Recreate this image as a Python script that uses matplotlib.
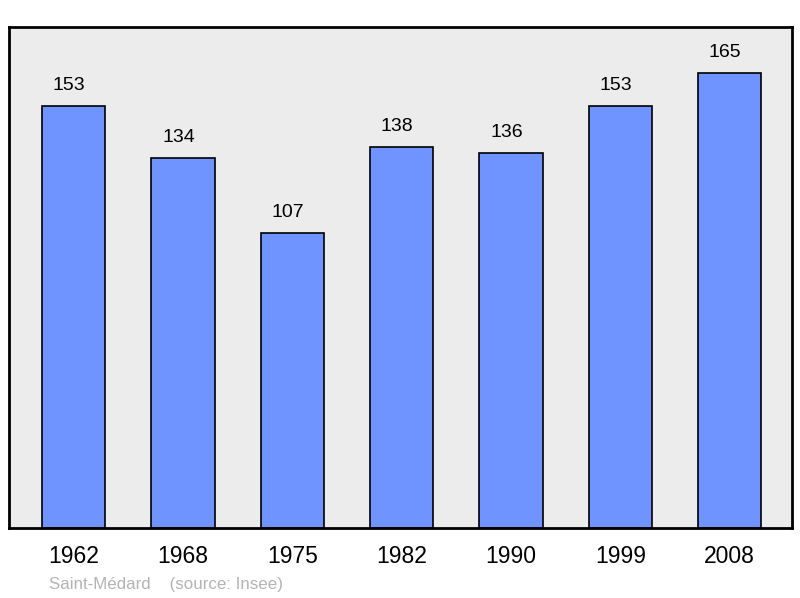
import matplotlib
matplotlib.use("Agg")
import matplotlib.pyplot as plt

years = ["1962", "1968", "1975", "1982", "1990", "1999", "2008"]
population = [153, 134, 107, 138, 136, 153, 165]
town = "Saint-Médard"
source = "(source: Insee)"

plt.rcParams["font.family"] = ["Liberation Sans", "DejaVu Sans"]

fig = plt.figure(figsize=(8, 5.98), dpi=100)
ax = fig.add_axes([9 / 800, 1 - 528 / 598, 783 / 800, 501 / 598])
ax.set_facecolor("#ececec")

x = range(len(years))
ax.bar(x, population, width=0.58, color="#7094ff", edgecolor="black", linewidth=1.2)

# value labels above each bar (slightly left of centre, as in the original)
for i, v in zip(x, population):
    ax.text(i - 0.04, v + 7.5, str(v), ha="center", va="center", fontsize=14)

ax.set_xlim(-0.59, 6.57)
ax.set_ylim(0, 181.6)
ax.set_yticks([])
ax.set_xticks(list(x))
ax.set_xticklabels(years, fontsize=16.5)
ax.tick_params(axis="x", length=0, pad=12.5)
for s in ax.spines.values():
    s.set_linewidth(2)

fig.text(49 / 800, 1 - 584.5 / 598, town + "    " + source, fontsize=12.2,
         color="#b4b4b4", ha="left", va="center")

fig.savefig("out.png", dpi=100)
